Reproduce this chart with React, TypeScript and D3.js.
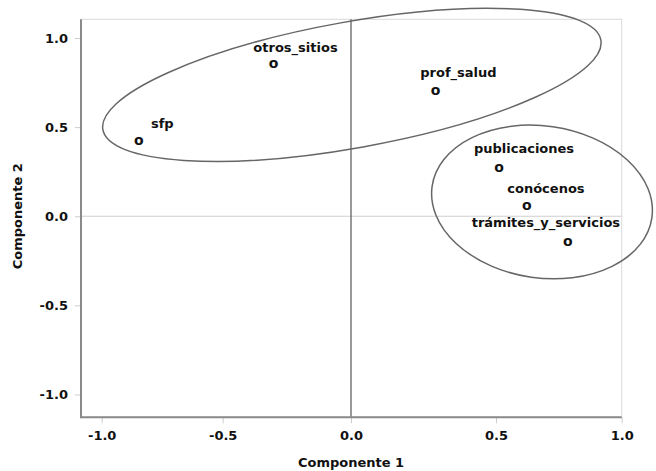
import React, { useRef, useEffect } from 'react';
import * as d3 from 'd3';

// component loadings
const labels = ['sfp', 'otros_sitios', 'prof_salud', 'publicaciones', 'conócenos', 'trámites_y_servicios'];
const comp1 = [-0.847, -0.302, 0.292, 0.512, 0.623, 0.786];
const comp2 = [0.425, 0.855, 0.702, 0.269, 0.058, -0.143];

const tickValues = [-1.0, -0.5, 0.0, 0.5, 1.0];
const tickLabels = ['-1.0', '-0.5', '0.0', '0.5', '1.0'];

// groups circled by hand on the original
const groupCx = [0.003, 0.683];
const groupCy = [0.737, 0.08];

// layout only
const labelDx = [23.6, 22, 22.8, 25, 19, -22];
const labelDy = [-12.2, -12.3, -13.9, -15, -13.3, -14.4];
const groupRx = [253, 111];
const groupRy = [63, 76];
const groupAngle = [-10.2, 8.2];

const FONT = '"DejaVu Sans", Verdana, sans-serif';

const App = () => {
  const ref = useRef<SVGSVGElement>(null);

  useEffect(() => {
    if (!ref.current) return;
    const svg = d3.select(ref.current);
    svg.selectAll('*').remove();

    // the reference axis is not evenly spaced, so map each tick
    const x = d3.scaleLinear()
      .domain([-1, -0.5, 0, 0.5, 1])
      .range([101.7, 222.7, 351, 496, 621.7]);
    const y = d3.scaleLinear()
      .domain([-1.128, 1.105])
      .range([417.3, 19.3]);

    const left = x(-1.0855);
    const right = x(1);
    const top = y(1.105);
    const bottom = y(-1.128);

    // frame
    svg.append('rect')
      .attr('x', left).attr('y', top)
      .attr('width', right - left).attr('height', bottom - top)
      .attr('fill', 'none').attr('stroke', '#d9d9d9').attr('stroke-width', 1);

    // reference lines
    svg.append('line')
      .attr('x1', left).attr('x2', right)
      .attr('y1', y(0)).attr('y2', y(0))
      .attr('stroke', '#cfcfcf').attr('stroke-width', 1);
    svg.append('line')
      .attr('x1', x(0)).attr('x2', x(0))
      .attr('y1', top).attr('y2', bottom)
      .attr('stroke', '#777').attr('stroke-width', 1.5);

    const xAxis = svg.append('g')
      .attr('transform', `translate(0,${bottom})`)
      .call(d3.axisBottom(x).tickValues(tickValues)
        .tickFormat((d, i) => tickLabels[i]).tickSize(6).tickPadding(7));
    const yAxis = svg.append('g')
      .attr('transform', `translate(${left},0)`)
      .call(d3.axisLeft(y).tickValues(tickValues)
        .tickFormat((d, i) => tickLabels[i]).tickSize(6).tickPadding(7));

    [xAxis, yAxis].forEach(g => {
      g.select('.domain').remove();
      g.selectAll('.tick line').attr('stroke', '#cccccc');
      g.selectAll('.tick text')
        .attr('fill', '#111')
        .style('font-family', FONT)
        .style('font-size', '13px')
        .style('font-weight', 'bold');
    });

    // axis lines
    svg.append('line')
      .attr('x1', left).attr('x2', left).attr('y1', top).attr('y2', bottom + 1)
      .attr('stroke', '#8a8a8a').attr('stroke-width', 2);
    svg.append('line')
      .attr('x1', left).attr('x2', right).attr('y1', bottom).attr('y2', bottom)
      .attr('stroke', '#8a8a8a').attr('stroke-width', 2);

    // group ellipses
    groupCx.forEach((cx, i) => {
      svg.append('ellipse')
        .attr('transform', `translate(${x(cx)},${y(groupCy[i])}) rotate(${groupAngle[i]})`)
        .attr('rx', groupRx[i]).attr('ry', groupRy[i])
        .attr('fill', 'none').attr('stroke', '#666').attr('stroke-width', 1.5);
    });

    // points and labels
    const pts = svg.append('g').style('font-family', FONT).style('font-weight', 'bold').attr('fill', '#111');
    labels.forEach((lab, i) => {
      const px = x(comp1[i]);
      const py = y(comp2[i]);
      pts.append('text')
        .attr('x', px).attr('y', py + 4)
        .attr('text-anchor', 'middle')
        .style('font-size', '14px')
        .text('o');
      pts.append('text')
        .attr('x', px + labelDx[i]).attr('y', py + labelDy[i])
        .attr('text-anchor', 'middle')
        .style('font-size', '13px')
        .text(lab);
    });

    // axis titles
    svg.append('text')
      .attr('x', x(0)).attr('y', 467)
      .attr('text-anchor', 'middle')
      .style('font-family', FONT).style('font-size', '13px').style('font-weight', 'bold')
      .attr('fill', '#111')
      .text('Componente 1');
    svg.append('text')
      .attr('transform', `translate(22,${y(0)}) rotate(-90)`)
      .attr('text-anchor', 'middle')
      .style('font-family', FONT).style('font-size', '13px').style('font-weight', 'bold')
      .attr('fill', '#111')
      .text('Componente 2');
  }, []);

  return (
    <svg ref={ref} width={656} height={471}
      style={{ position: 'absolute', left: 0, top: 0, background: '#fff' }} />
  );
};

export default App;
